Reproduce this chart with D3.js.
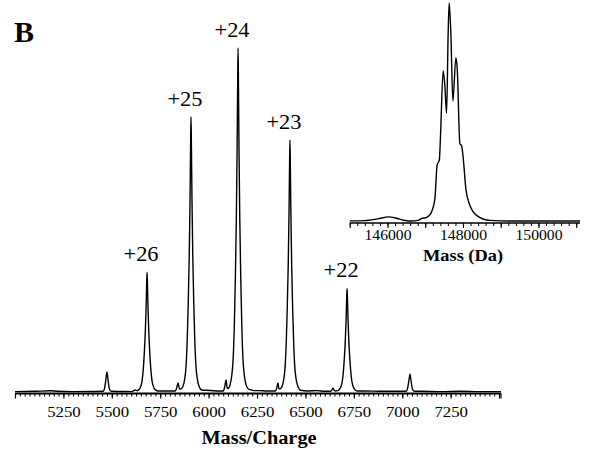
<!DOCTYPE html>
<html>
<head>
<meta charset="utf-8">
<script src="https://cdn.jsdelivr.net/npm/d3@7"></script>
<style>
  html, body { margin: 0; padding: 0; background: #fff; }
  svg { display: block; }
  text { font-family: "Liberation Serif", "Times New Roman", serif; fill: #000; }
</style>
</head>
<body>
<svg id="chart" width="599" height="458"></svg>
<script>
// ---------------- DATA ----------------
// Main ESI spectrum (m/z, relative intensity %)
const spectrumMz = [5000,5100,5180,5220,5300,5400,5455,5463,5469,5475,5481,5487,5496,5550,
  5605,5613,5620,5627,5640,5650,5657,5663,5668,5673,5677,5680,5682,5684,5687,5691,5696,5701,5707,5714,5724,5737,
  5760,5800,5828,5835,5842,5848,5854,5867,5877,5884,5890,5895,5900,5904,5907,5909,5911,5914,5918,5923,5928,5934,5941,5951,5964,
  5990,6040,6076,6083,6090,6095,6100,6110,6120,6127,6133,6138,6143,6147,6150,6152,6154,6157,6161,6166,6171,6177,6184,6194,6207,
  6220,6232,6260,6300,6345,6352,6358,6363,6368,6378,6388,6395,6401,6406,6411,6415,6418,6420,6422,6425,6429,6434,6439,6445,6452,6462,6475,
  6510,6560,6600,6630,6637,6642,6648,6656,6666,6673,6683,6690,6696,6701,6706,6710,6713,6715,6717,6720,6724,6729,6734,6740,6747,6757,6770,
  6800,6900,6980,7020,7028,7034,7040,7046,7052,7062,7100,7200,7300,7400,7510];
const spectrumIntensity = [0.1,0.2,0.35,0.2,0.1,0.15,0.2,1.2,3.5,5.8,3.2,1.0,0.2,0.15,
  0.1,0.4,0.6,0.4,0.7,1.7,3.5,7.0,11.5,17.4,24.4,31.3,34.8,31.3,24.4,17.4,11.5,7.0,3.5,1.7,0.7,0.3,
  0.3,0.3,0.3,1.2,2.6,1.1,0.8,1.6,4,8,16,26.4,40,56,72,80,72,56,40,26.4,16,8,4,1.6,0.6,
  0.5,0.3,0.3,1.5,3.5,1.4,1.0,2,5,10,20,33,50,70,90,100,90,70,50,33,20,10,5,2,0.8,
  0.6,0.4,0.4,0.3,0.3,1.2,2.6,1.0,0.9,1.5,3.7,7.3,14.7,24.2,36.7,51.3,66,73.3,66,51.3,36.7,24.2,14.7,7.3,3.7,1.5,0.5,
  0.3,0.4,0.2,0.2,0.6,1.2,0.5,0.3,0.4,0.6,1.5,3,6,9.9,15,21.1,27.1,30.1,27.1,21.1,15,9.9,6,3,1.5,0.6,0.3,
  0.3,0.2,0.2,0.2,1.2,3.2,5.2,3.0,1.0,0.2,0.2,0.1,0.2,0.1,0.1];

// Charge-state annotations
const chargeLabels = ["+26","+25","+24","+23","+22"];
const chargePeakMz = [5682,5909,6152,6420,6715];
const chargePeakIntensity = [34.8,80,100,73.3,30.1];

// Main axis ticks
const mainTickLabels = [5250,5500,5750,6000,6250,6500,6750,7000,7250];

// Deconvoluted inset (mass Da, relative intensity %)
const insetMass = [145000,145398,145743,146034,146220,146432,146644,146803,146910,147042,147148,147254,147315,147374,147406,
  147474,147520,147565,147607,147634,147679,147732,147812,147846,147918,147963,148005,148077,148183,148360,148713,149243,151100];
const insetIntensity = [0.3,0.4,1.2,2.1,1.6,0.6,0.2,0.5,1.4,1.9,3.7,10.2,25.9,28.2,39.8,
  69,62,49.5,86.1,100,86.1,55.1,75,70.4,35.6,34.7,29.2,14.8,7.4,2.8,0.5,0.2,0.2];
const insetTickLabels = [146000,148000,150000];

const panelLetter = "B";
const mainXTitle = "Mass/Charge";
const insetXTitle = "Mass (Da)";

// ---------------- DRAWING ----------------
const svg = d3.select("#chart");
const SX = 1.12; // horizontal stretch of the original figure's type

// main scales
const x = d3.scaleLinear().domain([5000, 7510]).range([15, 501]);
const y = d3.scaleLinear().domain([0, 100]).range([392, 48]);
const axisY = 393.5;

const spec = spectrumMz.map((m, i) => [m, spectrumIntensity[i]]);
const line = d3.line().x(d => x(d[0])).y(d => y(d[1])).curve(d3.curveMonotoneX);

svg.append("path").datum(spec)
  .attr("d", line).attr("fill", "none")
  .attr("stroke", "#000").attr("stroke-width", 1.4).attr("stroke-linejoin", "round");

// main axis: minor ticks
const minorVals = d3.range(5000, 7511, 25);
svg.append("g").attr("transform", `translate(0,${axisY})`)
  .call(d3.axisBottom(x).tickValues(minorVals).tickSize(3).tickSizeOuter(0).tickFormat(""))
  .call(g => g.select(".domain").remove())
  .call(g => g.selectAll(".tick line").attr("stroke", "#000").attr("stroke-width", 1));

// main axis: major ticks + labels
const majorVals = d3.range(5000, 7510, 250);
const mainAxis = svg.append("g").attr("transform", `translate(0,${axisY})`)
  .call(d3.axisBottom(x).tickValues(majorVals).tickSize(5).tickSizeOuter(0)
    .tickFormat(d => mainTickLabels.includes(d) ? String(d) : ""));
mainAxis.select(".domain").attr("stroke", "#000").attr("stroke-width", 2)
  .attr("d", `M${x.range()[0]},0H${x.range()[1]}`);
mainAxis.selectAll(".tick line").attr("stroke", "#000").attr("stroke-width", 1.2);
mainAxis.selectAll(".tick text")
  .attr("y", 23.5).attr("dy", 0)
  .attr("transform", `scale(${SX},1)`)
  .style("font-family", '"Liberation Serif", "Times New Roman", serif')
  .style("font-size", "15px").attr("fill", "#000");
// end tick on right
svg.append("line").attr("x1", x.range()[1]).attr("x2", x.range()[1])
  .attr("y1", axisY).attr("y2", axisY + 5).attr("stroke", "#000").attr("stroke-width", 1.2);

// main axis title
svg.append("text").attr("transform", `translate(259,444) scale(1.13,1)`)
  .attr("text-anchor", "middle").style("font-size", "18px").style("font-weight", "bold")
  .text(mainXTitle);

// charge labels
chargeLabels.forEach((lab, i) => {
  svg.append("text")
    .attr("transform", `translate(${x(chargePeakMz[i]) - 6},${y(chargePeakIntensity[i]) - 11}) scale(${SX},1)`)
    .attr("text-anchor", "middle").style("font-size", "20px")
    .text(lab);
});

// panel letter
svg.append("text").attr("x", 14).attr("y", 42)
  .style("font-size", "30px").style("font-weight", "bold").text(panelLetter);

// ---------------- INSET ----------------
const xi = d3.scaleLinear().domain([145000, 151100]).range([349.75, 580]);
const yi = d3.scaleLinear().domain([0, 100]).range([221.5, 3]);
const insetAxisY = 223;

const ins = insetMass.map((m, i) => [m, insetIntensity[i]]);
const lineI = d3.line().x(d => xi(d[0])).y(d => yi(d[1])).curve(d3.curveMonotoneX);
svg.append("path").datum(ins).attr("d", lineI).attr("fill", "none")
  .attr("stroke", "#000").attr("stroke-width", 1.4).attr("stroke-linejoin", "round");

svg.append("g").attr("transform", `translate(0,${insetAxisY})`)
  .call(d3.axisBottom(xi).tickValues(d3.range(145000, 151001, 200)).tickSize(3).tickSizeOuter(0).tickFormat(""))
  .call(g => g.select(".domain").remove())
  .call(g => g.selectAll(".tick line").attr("stroke", "#000").attr("stroke-width", 1));

const insetAxis = svg.append("g").attr("transform", `translate(0,${insetAxisY})`)
  .call(d3.axisBottom(xi).tickValues(d3.range(145000, 151001, 1000)).tickSize(5).tickSizeOuter(0)
    .tickFormat(d => insetTickLabels.includes(d) ? String(d) : ""));
insetAxis.select(".domain").attr("stroke", "#000").attr("stroke-width", 1.6)
  .attr("d", `M${xi.range()[0]},0H${xi.range()[1]}`);
insetAxis.selectAll(".tick line").attr("stroke", "#000").attr("stroke-width", 1.1);
insetAxis.selectAll(".tick text")
  .attr("y", 17).attr("dy", 0)
  .attr("transform", `scale(${SX},1)`)
  .style("font-family", '"Liberation Serif", "Times New Roman", serif')
  .style("font-size", "14px").attr("fill", "#000");

svg.append("text").attr("transform", `translate(463,261) scale(1.08,1)`)
  .attr("text-anchor", "middle").style("font-size", "17px").style("font-weight", "bold")
  .text(insetXTitle);
</script>
</body>
</html>
